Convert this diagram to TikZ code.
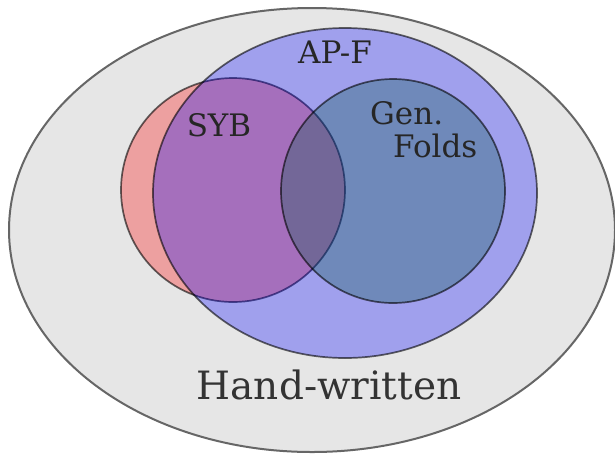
\documentclass[tikz,border=0pt]{standalone}
\usepackage{fontspec}
\setmainfont{DejaVu Serif}
\usepackage{tikz}
\usepackage{xcolor}
\usetikzlibrary{positioning}
\definecolor{bggray}{HTML}{E6E6E6}
\definecolor{foldcol}{RGB}{0,87,70}

\begin{document}
\begin{tikzpicture}
  [x=1pt,y=-1pt,
   set/.style={line width=1.7pt,draw=black,draw opacity=0.6,fill opacity=0.3},
   label/.style={inner sep=0pt,text=black!85,font=\fontsize{31}{33}\selectfont}]
  \useasboundingbox (0,0) rectangle (615,456);
  \filldraw[fill=bggray,draw=black!60,line width=2pt] (312,230) ellipse [x radius=303,y radius=222];
  \filldraw[set,fill=red] (233,190) circle [radius=112];
  \filldraw[set,fill=blue] (345,193) ellipse [x radius=192,y radius=165];
  \filldraw[set,fill=foldcol] (393,191) circle [radius=112];

  \node[label] (apf) at (335,52) {AP-F};
  \node[label] (syb) at (219,125) {SYB};
  \node[label,align=left,anchor=north west] (folds) at (370,101) {Gen.\\[0pt]\hspace*{23pt}Folds};
  \node[label,text=black!80,font=\fontsize{39}{40}\selectfont] (hand) at (329,385) {Hand-written};
\end{tikzpicture}
\end{document}
